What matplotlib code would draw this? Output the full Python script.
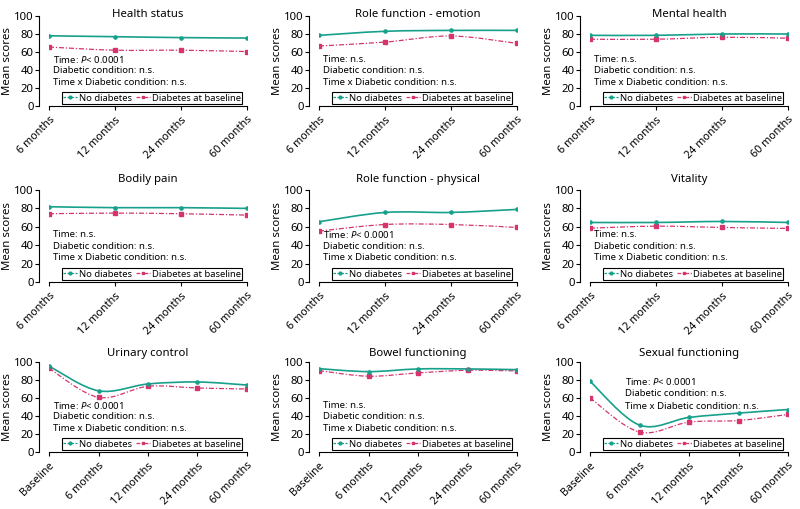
import matplotlib
matplotlib.use("Agg")
import matplotlib.pyplot as plt
from matplotlib.path import Path
from matplotlib.patches import PathPatch
from matplotlib.lines import Line2D

FONT = "Noto Sans"
plt.rcParams['font.family'] = [FONT, 'DejaVu Sans']
plt.rcParams['mathtext.fontset'] = 'custom'
plt.rcParams['mathtext.rm'] = FONT
plt.rcParams['mathtext.it'] = FONT + ':italic'

TEAL = "#17a08b"
PINK = "#d6336f"

x_short = ["6 months", "12 months", "24 months", "60 months"]
x_long = ["Baseline", "6 months", "12 months", "24 months", "60 months"]

titles = ["Health status", "Role function - emotion", "Mental health",
          "Bodily pain", "Role function - physical", "Vitality",
          "Urinary control", "Bowel functioning", "Sexual functioning"]

no_diabetes = [
    [78, 77, 76, 75.5],
    [78.5, 83, 84, 84],
    [78.5, 78.5, 80, 80],
    [81.8, 80.8, 80.8, 80],
    [65.5, 75.6, 75.6, 78.9],
    [64.7, 64.7, 65.8, 64.7],
    [95.5, 68, 75.6, 77.8, 74.4],
    [92.6, 89.3, 92.3, 92.3, 91.5],
    [78.6, 29.9, 38.4, 43.2, 47.2],
]
diabetes = [
    [65.5, 62, 62, 60.5],
    [66.7, 71, 77.8, 69.6],
    [74.2, 74.2, 76.4, 75.3],
    [74.2, 74.9, 74.2, 72.7],
    [55.3, 62.5, 62.5, 59.3],
    [58.5, 60.7, 59.3, 58.2],
    [93, 60.7, 73, 71.1, 70],
    [90.4, 84.2, 87.9, 90.8, 90.1],
    [60.1, 22.1, 33.2, 35, 41.7],
]
time_stat = ["Time: $\\it{P}$< 0.0001", "Time: n.s.", "Time: n.s.",
             "Time: n.s.", "Time: $\\it{P}$< 0.0001", "Time: n.s.",
             "Time: $\\it{P}$< 0.0001", "Time: n.s.", "Time: $\\it{P}$< 0.0001"]
diab_stat = "Diabetic condition: n.s."
inter_stat = "Time x Diabetic condition: n.s."

W, H = 800, 509
fig = plt.figure(figsize=(8, 5.09), dpi=100)

col_x = [(49, 247), (319, 517), (590, 788)]
row_y = [(16, 106), (190, 282), (362, 452)]
title_pad = [-0.7, 5.8, 4.3]


def smooth_path(xs, ys):
    n = len(xs)
    pts = list(zip(xs, ys))
    verts = [pts[0]]
    codes = [Path.MOVETO]
    for i in range(n - 1):
        p0 = pts[i - 1] if i > 0 else pts[i]
        p1 = pts[i]
        p2 = pts[i + 1]
        p3 = pts[i + 2] if i + 2 < n else pts[i + 1]
        c1 = (p1[0] + (p2[0] - p0[0]) / 6, p1[1] + (p2[1] - p0[1]) / 6)
        c2 = (p2[0] - (p3[0] - p1[0]) / 6, p2[1] - (p3[1] - p1[1]) / 6)
        verts += [c1, c2, p2]
        codes += [Path.CURVE4] * 3
    return Path(verts, codes)


for k in range(9):
    r, c = divmod(k, 3)
    x0, x1 = col_x[c]
    y0, y1 = row_y[r]
    ax = fig.add_axes([x0 / W, 1 - y1 / H, (x1 - x0) / W, (y1 - y0) / H])
    labels = x_long if r == 2 else x_short
    xs = list(range(len(labels)))
    nd = no_diabetes[k]
    db = diabetes[k]

    ax.add_patch(PathPatch(smooth_path(xs, db), fill=False, edgecolor=PINK,
                           lw=0.9, linestyle=(0, (4, 1.5, 1, 1.5))))
    ax.add_patch(PathPatch(smooth_path(xs, nd), fill=False, edgecolor=TEAL, lw=1.2))
    ax.plot(xs, db, linestyle='none', marker='s', ms=2.2, color=PINK)
    ax.plot(xs, nd, linestyle='none', marker='o', ms=2.3, color=TEAL)

    ax.set_xlim(0, len(labels) - 1)
    ax.set_ylim(0, 100)
    ax.set_yticks([0, 20, 40, 60, 80, 100])
    ax.set_xticks(xs)
    ax.set_xticklabels(labels, rotation=45, ha='right', rotation_mode='anchor')
    ax.tick_params(axis='x', labelsize=7.8, length=3, width=0.8, pad=3)
    ax.tick_params(axis='y', labelsize=8.2, length=3, width=0.8, pad=1)
    for s in ['top', 'right']:
        ax.spines[s].set_visible(False)
    ax.spines['left'].set_position(('outward', 7))
    for s in ['left', 'bottom']:
        ax.spines[s].set_linewidth(0.8)
    ax.set_title(titles[k], fontsize=8.2, y=1.0, pad=title_pad[r])
    ax.set_ylabel("Mean scores", fontsize=8.2)
    ax.yaxis.set_label_coords(-0.18, 0.5)

    if k == 8:
        tx, ty = 0.177, [0.78, 0.645, 0.51]
    else:
        tx, ty = 0.02, [0.52, 0.39, 0.265]
    for t, yy in zip([time_stat[k], diab_stat, inter_stat], ty):
        ax.text(tx, yy, t, transform=ax.transAxes, fontsize=6.9,
                va='center', ha='left')

    handles = [
        Line2D([], [], color=TEAL, lw=0.9, linestyle=(0, (2, 1.2)), marker='o', ms=2),
        Line2D([], [], color=PINK, lw=0.9, linestyle=(0, (3, 1.2, 1, 1.2)), marker='s', ms=2),
    ]
    leg = ax.legend(handles, ["No diabetes", "Diabetes at baseline"], ncol=2,
                    loc='lower right', bbox_to_anchor=(0.975, 0.025),
                    borderaxespad=0, fontsize=6.8, frameon=True, fancybox=False,
                    framealpha=1, edgecolor='black', borderpad=0.12,
                    handlelength=1.5, handletextpad=0.15, columnspacing=0.5,
                    labelspacing=0)
    leg.get_frame().set_linewidth(0.8)

fig.savefig("out.png", dpi=100)
